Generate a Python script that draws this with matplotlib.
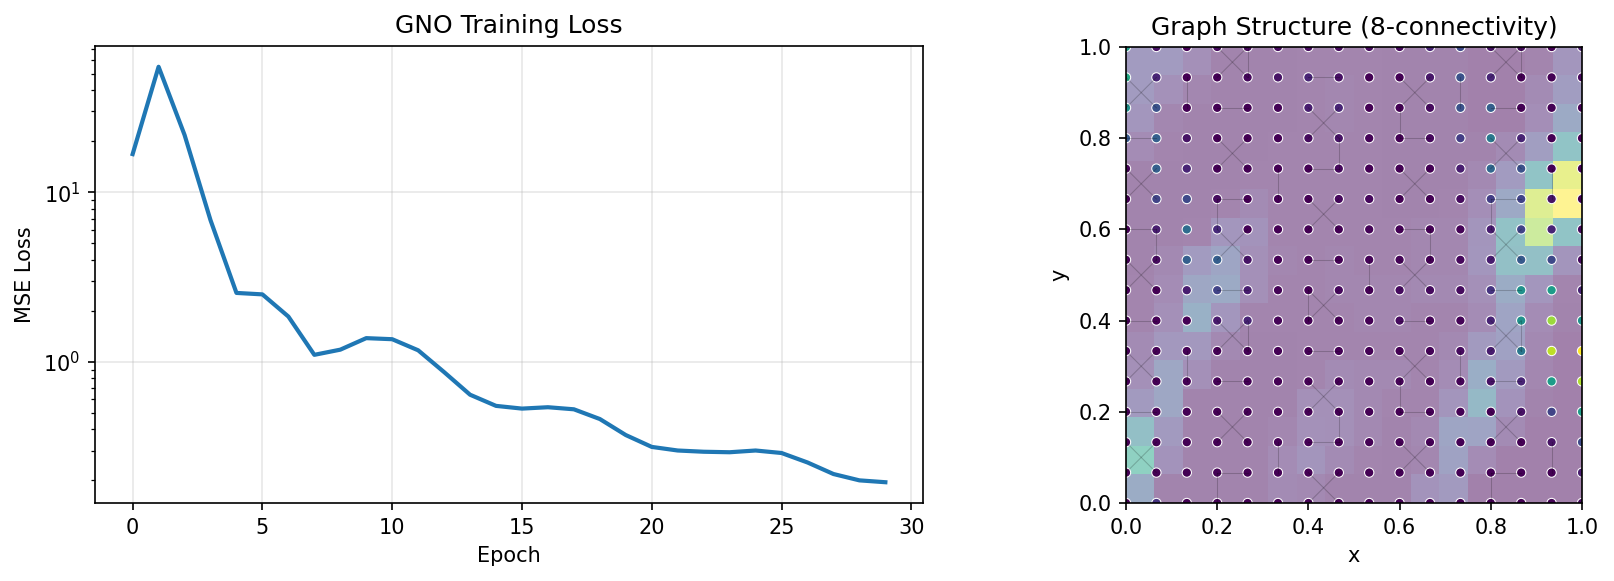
import numpy as np
import matplotlib
matplotlib.use("Agg")
import matplotlib.pyplot as plt

epochs = list(range(30))
train_loss = [16.8, 55, 21.8, 6.85, 2.55, 2.5, 1.85, 1.1, 1.18, 1.38,
              1.36, 1.17, 0.87, 0.64, 0.55, 0.53, 0.54, 0.525, 0.46, 0.37,
              0.315, 0.30, 0.295, 0.293, 0.30, 0.29, 0.255, 0.218, 0.20, 0.195]

# field on the 16x16 image, first row is the top of the domain
field_image = [
    [.16, .16, .09, .02, .02, .02, .03, .03, .03, .02, .02, .02, .01, .01, .03, .13],
    [.16, .10, .04, .02, .02, .02, .03, .04, .03, .02, .02, .02, .01, .01, .06, .17],
    [.13, .04, .02, .02, .02, .02, .03, .04, .03, .02, .02, .02, .01, .01, .08, .26],
    [.07, .03, .02, .02, .02, .03, .03, .03, .03, .02, .02, .02, .02, .06, .18, .47],
    [.02, .02, .02, .02, .03, .03, .03, .03, .03, .02, .02, .02, .05, .16, .48, .93],
    [.02, .02, .02, .03, .06, .03, .03, .03, .03, .02, .02, .03, .08, .25, .90, 1.0],
    [.02, .02, .03, .13, .11, .03, .03, .03, .03, .03, .04, .04, .12, .46, .85, .48],
    [.02, .05, .16, .23, .09, .04, .03, .04, .03, .03, .04, .04, .13, .44, .44, .12],
    [.03, .07, .24, .26, .09, .03, .03, .04, .04, .04, .05, .05, .09, .28, .13, .03],
    [.03, .09, .32, .13, .03, .03, .03, .03, .04, .04, .03, .03, .07, .22, .07, .02],
    [.06, .14, .14, .05, .02, .02, .03, .03, .03, .03, .03, .05, .15, .20, .05, .01],
    [.09, .24, .09, .02, .02, .02, .03, .06, .05, .05, .03, .07, .30, .15, .04, .01],
    [.15, .24, .02, .02, .02, .02, .09, .09, .05, .03, .03, .12, .38, .11, .02, .01],
    [.43, .15, .02, .02, .02, .04, .10, .09, .05, .02, .05, .23, .22, .06, .01, .01],
    [.58, .11, .02, .02, .02, .07, .12, .06, .03, .02, .04, .21, .07, .01, .01, .01],
    [.28, .02, .02, .02, .02, .06, .05, .02, .02, .02, .11, .15, .01, .01, .01, .01],
]

# values at the graph nodes, first row is y = 1
node_values = [
    [.55, .05, .00, .03, .02, .03, .03, .03, .03, .02, .10, .22, .05, .03, .00, .08],
    [.60, .10, .00, .00, .02, .05, .10, .04, .00, .00, .06, .25, .10, .00, .00, .02],
    [.50, .25, .00, .00, .00, .01, .08, .10, .00, .00, .03, .25, .30, .00, .00, .00],
    [.27, .30, .05, .00, .00, .00, .03, .05, .01, .00, .02, .18, .40, .10, .00, .00],
    [.01, .30, .10, .00, .00, .00, .00, .02, .00, .00, .00, .08, .33, .25, .00, .00],
    [.00, .20, .22, .03, .00, .00, .00, .02, .02, .00, .00, .03, .18, .20, .05, .00],
    [.00, .08, .35, .12, .00, .00, .00, .00, .01, .00, .00, .01, .08, .20, .10, .03],
    [.00, .03, .30, .30, .05, .00, .00, .00, .01, .01, .00, .02, .08, .28, .22, .03],
    [.00, .00, .08, .20, .08, .01, .00, .02, .00, .03, .03, .03, .15, .50, .55, .10],
    [.00, .00, .00, .07, .10, .01, .00, .00, .00, .03, .01, .01, .10, .50, .85, .50],
    [.00, .00, .00, .00, .00, .00, .00, .00, .00, .00, .01, .03, .08, .40, .90, 1.0],
    [.00, .00, .00, .00, .00, .00, .00, .00, .00, .01, .00, .01, .05, .10, .55, .88],
    [.00, .00, .00, .00, .00, .00, .00, .00, .00, .00, .00, .00, .00, .05, .20, .55],
    [.00, .00, .00, .00, .00, .00, .00, .00, .00, .00, .00, .00, .00, .00, .05, .22],
    [.00, .00, .00, .00, .00, .00, .00, .00, .00, .00, .00, .00, .00, .00, .00, .08],
    [.00, .15, .00, .00, .00, .00, .00, .00, .00, .00, .00, .00, .00, .00, .01, .03],
]

# graph edges as (column, row) of the node they start from, row 0 at y = 0
cross_cells = [(3, 14), (0, 13), (6, 12), (3, 11), (0, 10), (6, 9), (3, 8), (0, 7),
               (6, 6), (3, 5), (0, 4), (6, 3), (3, 2), (0, 1), (6, 0),
               (12, 14), (9, 13), (12, 11), (9, 10), (12, 8), (9, 7), (12, 5),
               (9, 4), (12, 2), (9, 1)]
horizontal_edges = [(6, 14), (3, 13), (0, 12), (6, 11), (3, 10), (0, 9), (6, 8), (3, 7),
                    (0, 6), (6, 5), (3, 4), (0, 3), (6, 2), (3, 1),
                    (12, 13), (9, 12), (12, 10), (9, 9), (12, 7), (9, 6), (12, 4),
                    (9, 3), (12, 1)]
vertical_edges = [(4, 14), (2, 13), (7, 11), (5, 10), (3, 9), (1, 8), (6, 6), (4, 5),
                  (2, 4), (7, 2), (5, 1), (3, 0),
                  (13, 14), (11, 13), (9, 12), (14, 10), (12, 9), (10, 8), (8, 7),
                  (13, 5), (11, 4), (9, 3), (14, 1), (12, 0)]

W, H = 1614, 581
fig = plt.figure(figsize=(W / 150, H / 150), dpi=150)


def axes_px(x0, y0, x1, y1):
    return fig.add_axes([x0 / W, 1 - y1 / H, (x1 - x0) / W, (y1 - y0) / H])


ax1 = axes_px(95, 46, 923, 503)
ax1.semilogy(epochs, train_loss, linewidth=2)
ax1.set_xlabel("Epoch")
ax1.set_ylabel("MSE Loss")
ax1.set_title("GNO Training Loss")
ax1.grid(True, alpha=0.3)

ax2 = axes_px(1126, 47, 1582, 503)
grid = np.linspace(0, 1, 16)
ax2.imshow(field_image, extent=[0, 1, 0, 1], origin="upper", cmap="viridis",
           alpha=0.5, vmin=0, vmax=1, interpolation="nearest")

X, Y = np.meshgrid(grid, grid[::-1])
ax2.scatter(X.ravel(), Y.ravel(), c=np.array(node_values).ravel(), s=20, cmap="viridis",
            vmin=0, vmax=1, edgecolors="white", linewidths=0.5)


def draw_edge(a, b):
    ax2.plot([grid[a[0]], grid[b[0]]], [grid[a[1]], grid[b[1]]], "k-", alpha=0.2, linewidth=0.5)


for i, j in cross_cells:
    draw_edge((i, j), (i + 1, j + 1))
    draw_edge((i + 1, j), (i, j + 1))
for i, j in horizontal_edges:
    draw_edge((i, j), (i + 1, j))
for i, j in vertical_edges:
    draw_edge((i, j), (i, j + 1))

ax2.set_xlim(0, 1)
ax2.set_ylim(0, 1)
ax2.set_xlabel("x")
ax2.set_ylabel("y")
ax2.set_title("Graph Structure (8-connectivity)")

fig.savefig("out.png", dpi=150)
